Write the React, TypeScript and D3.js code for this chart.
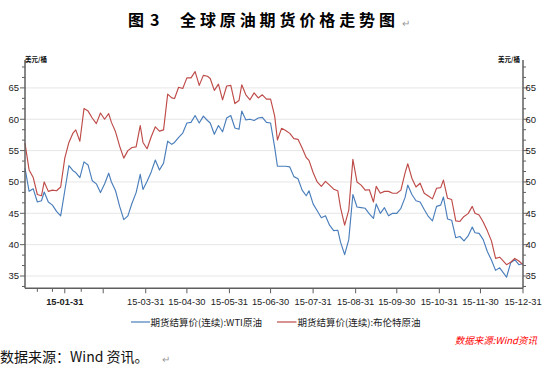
import React from "react";
import * as d3 from "d3";

const dates: string[] = [
  "2015-01-02","2015-01-05","2015-01-08","2015-01-11","2015-01-14","2015-01-16","2015-01-19","2015-01-22","2015-01-25","2015-01-28",
  "2015-01-31","2015-02-03","2015-02-06","2015-02-08","2015-02-11","2015-02-14","2015-02-17","2015-02-20","2015-02-23","2015-02-26",
  "2015-03-01","2015-03-04","2015-03-06","2015-03-09","2015-03-12","2015-03-15","2015-03-18","2015-03-21","2015-03-24","2015-03-27",
  "2015-03-29","2015-04-01","2015-04-04","2015-04-07","2015-04-10","2015-04-13","2015-04-16","2015-04-19","2015-04-21","2015-04-24",
  "2015-04-27","2015-04-30","2015-05-03","2015-05-06","2015-05-09","2015-05-12","2015-05-15","2015-05-17","2015-05-20","2015-05-23",
  "2015-05-26","2015-05-29","2015-06-01","2015-06-04","2015-06-07","2015-06-09","2015-06-12","2015-06-15","2015-06-18","2015-06-21",
  "2015-06-24","2015-06-27","2015-06-30","2015-07-03","2015-07-05","2015-07-08","2015-07-11","2015-07-14","2015-07-17","2015-07-20",
  "2015-07-23","2015-07-26","2015-07-28","2015-07-31","2015-08-03","2015-08-06","2015-08-09","2015-08-12","2015-08-15","2015-08-18",
  "2015-08-20","2015-08-23","2015-08-26","2015-08-29","2015-09-01","2015-09-04","2015-09-07","2015-09-10","2015-09-13","2015-09-15",
  "2015-09-18","2015-09-21","2015-09-24","2015-09-27","2015-09-30","2015-10-03","2015-10-06","2015-10-08","2015-10-11","2015-10-14",
  "2015-10-17","2015-10-20","2015-10-23","2015-10-26","2015-10-29","2015-11-01","2015-11-03","2015-11-06","2015-11-09","2015-11-12",
  "2015-11-15","2015-11-18","2015-11-21","2015-11-24","2015-11-26","2015-11-29","2015-12-02","2015-12-05","2015-12-08","2015-12-11",
  "2015-12-14","2015-12-17","2015-12-19","2015-12-22","2015-12-25","2015-12-28","2015-12-31",
];

const wtiPrices: number[] = [
  52.2, 48.5, 48.9, 46.8, 47.0, 48.4, 46.8, 46.3, 45.3, 44.6,
  48.6, 52.6, 51.8, 51.5, 50.7, 53.2, 52.7, 50.2, 49.7, 48.3,
  49.67, 51.4, 50.0, 48.6, 46.1, 44.0, 44.6, 46.6, 48.3, 51.2,
  48.8, 50.1, 51.6, 53.5, 51.9, 53.0, 56.5, 56.0, 56.3, 57.1,
  57.8, 59.4, 59.5, 60.6, 59.4, 60.5, 59.8, 59.4, 57.6, 59.0,
  58.0, 60.2, 60.6, 58.6, 58.4, 61.3, 59.9, 60.0, 59.8, 60.2,
  60.3, 59.5, 59.4, 55.5, 52.5, 52.5, 52.5, 52.4, 50.85, 50.5,
  48.7, 47.8, 48.6, 46.5, 45.4, 44.3, 44.6, 43.1, 42.24, 42.3,
  40.4, 38.4, 40.8, 48.0, 46.0, 45.9, 45.8, 44.9, 44.2, 46.5,
  45.0, 45.9, 44.6, 45.0, 45.0, 45.8, 47.5, 49.5, 48.0, 47.0,
  46.8, 45.6, 44.5, 43.8, 46.1, 46.3, 47.6, 44.1, 43.9, 41.1,
  41.3, 40.6, 41.4, 42.8, 41.9, 41.8, 40.8, 38.9, 37.55, 35.9,
  36.3, 35.43, 34.8, 37.1, 37.6, 36.8, 37.0,
];

const brentPrices: number[] = [
  56.2, 51.9, 50.7, 48.0, 47.8, 50.0, 48.5, 48.7, 48.6, 49.2,
  53.8, 56.3, 57.8, 58.3, 56.5, 61.7, 61.3, 60.2, 59.3, 61.0,
  60.0, 60.9, 59.5, 58.0, 55.7, 53.8, 55.0, 55.5, 55.6, 59.0,
  56.3, 55.3, 57.2, 58.8, 58.1, 58.3, 64.0, 63.4, 63.3, 65.1,
  64.9, 66.6, 66.6, 67.6, 65.4, 67.0, 66.85, 66.5, 64.6, 65.6,
  63.1, 65.3, 65.4, 62.5, 63.0, 65.5, 63.9, 63.1, 64.2, 63.4,
  63.9, 63.2, 63.2, 60.5, 56.7, 58.55, 58.2, 57.75, 56.9, 56.8,
  55.4, 53.9, 53.45, 51.5, 50.0, 49.3, 50.1, 49.5, 48.85, 48.6,
  45.9, 43.1, 45.5, 53.6, 50.0, 49.5, 48.7, 48.75, 46.8, 49.3,
  48.2, 48.5, 48.5, 48.2, 48.2, 48.7, 51.4, 52.9, 50.6, 49.2,
  49.8, 48.2, 47.76, 47.3, 49.0, 49.1, 50.3, 47.4, 47.2, 43.8,
  43.7, 44.5, 44.95, 46.1, 45.0, 44.73, 43.6, 42.2, 40.6, 37.82,
  38.0, 37.3, 36.8, 37.2, 37.8, 37.4, 36.8,
];

const seriesNames: string[] = ["期货结算价(连续):WTI原油", "期货结算价(连续):布伦特原油"];
const seriesColors: string[] = ["#4a7ebb", "#be4b48"];
const yTickValues: number[] = [35, 40, 45, 50, 55, 60, 65];
const xMajorTicks: string[] = [
  "2015-01-31","2015-02-28","2015-03-31","2015-04-30","2015-05-31","2015-06-30",
  "2015-07-31","2015-08-31","2015-09-30","2015-10-31","2015-11-30","2015-12-31",
];
const xMinorTicks: string[] = ["2015-01-11", "2015-01-22", "2015-02-12"];
const xLabelTicks: string[] = [
  "2015-01-31","2015-03-31","2015-04-30","2015-05-31","2015-06-30",
  "2015-07-31","2015-08-31","2015-09-30","2015-10-31","2015-11-30","2015-12-31",
];
const boldLabel = "2015-01-31";
const titleNum: string[] = ["图", "3"];
const titleText = "全球原油期货价格走势图";
const unitLabel = "美元/桶";
const sourceNote = "数据来源:Wind资讯";
const caption = "数据来源：Wind 资讯。";

const parse = d3.timeParse("%Y-%m-%d");
const fmt = d3.timeFormat("%y-%m-%d");

export default function App() {
  const W = 545, H = 377;
  const left = 25, right = 523, top = 60, bottom = 288.3;
  const x = d3.scaleTime()
    .domain([parse("2015-01-02") as Date, parse("2015-12-31") as Date])
    .range([left, right]);
  const y = d3.scaleLinear().domain([33.04, 69.45]).range([bottom, top]);
  const minorY = d3.range(33.3333, 69.4, 5 / 3).filter(v => Math.abs(Math.round(v / 5) * 5 - v) > 0.1);

  const series = [wtiPrices, brentPrices];
  const line = d3.line<number>()
    .x((_, i) => x(parse(dates[i]) as Date))
    .y(v => y(v));

  const axisColor = "#5f5f5f";
  const labelFont = "'Liberation Sans', Arial, sans-serif";
  const cjk = "'Noto Sans CJK SC', sans-serif";

  return (
    <svg width={W} height={H} style={{ position: "absolute", left: 0, top: 0, background: "#fff" }}>
      <rect x={0} y={0} width={W} height={H} fill="#fff" />
      {/* Title */}
      <text x={128} y={26} fontFamily={cjk} fontWeight={700} fontSize={16} fill="#000">{titleNum[0]}</text>
      <text x={150} y={26} fontFamily={cjk} fontWeight={700} fontSize={16} fill="#000">{titleNum[1]}</text>
      <text x={180} y={26} fontFamily={cjk} fontWeight={700} fontSize={16} letterSpacing={3.9} fill="#000">
        {titleText}
      </text>
      <text x={402} y={27} fontFamily={cjk} fontSize={10} fill="#999">↵</text>

      {/* gridlines */}
      {yTickValues.map(v => (
        <line key={"g" + v} x1={left} x2={right} y1={y(v)} y2={y(v)} stroke="#e6e6e6" strokeWidth={1} />
      ))}

      {/* series */}
      {series.map((s, k) => (
        <path key={k} d={line(s) || ""} fill="none" stroke={seriesColors[k]} strokeWidth={1.15} strokeLinejoin="round" />
      ))}

      {/* axes */}
      <line x1={left} x2={left} y1={top} y2={bottom} stroke={axisColor} strokeWidth={1.5} />
      <line x1={right} x2={right} y1={top} y2={bottom} stroke={axisColor} strokeWidth={1.5} />
      <line x1={left} x2={right} y1={bottom} y2={bottom} stroke={axisColor} strokeWidth={1.5} />

      {yTickValues.map(v => (
        <g key={"yt" + v}>
          <line x1={left - 5} x2={left} y1={y(v)} y2={y(v)} stroke={axisColor} strokeWidth={1} />
          <line x1={right} x2={right + 5} y1={y(v)} y2={y(v)} stroke={axisColor} strokeWidth={1} />
          <text x={19} y={y(v) + 3.3} textAnchor="end" fontFamily={labelFont} fontSize={9.5} fill="#222">{v}</text>
          <text x={525.5} y={y(v) + 3.3} textAnchor="start" fontFamily={labelFont} fontSize={9.5} fill="#222">{v}</text>
        </g>
      ))}
      {minorY.map((v, i) => (
        <g key={"ym" + i}>
          <line x1={left - 3} x2={left} y1={y(v)} y2={y(v)} stroke={axisColor} strokeWidth={1} />
          <line x1={right} x2={right + 3} y1={y(v)} y2={y(v)} stroke={axisColor} strokeWidth={1} />
        </g>
      ))}

      {xMajorTicks.map(d => {
        const px = x(parse(d) as Date);
        return <line key={"xt" + d} x1={px} x2={px} y1={bottom} y2={bottom + 5} stroke={axisColor} strokeWidth={1} />;
      })}
      {xMinorTicks.map(d => {
        const px = x(parse(d) as Date);
        return <line key={"xm" + d} x1={px} x2={px} y1={bottom} y2={bottom + 3.5} stroke={axisColor} strokeWidth={1} />;
      })}
      {xLabelTicks.map(d => {
        const px = x(parse(d) as Date);
        return (
          <text key={"xl" + d} x={px} y={304.5} textAnchor="middle" fontFamily={labelFont} fontSize={9.3}
            fontWeight={d === boldLabel ? 700 : 400} fill="#222">
            {fmt(parse(d) as Date)}
          </text>
        );
      })}

      {/* unit labels */}
      <text x={25} y={61.5} fontFamily={cjk} fontSize={6.5} fontWeight={700} fill="#111">{unitLabel}</text>
      <text x={520} y={61.5} textAnchor="end" fontFamily={cjk} fontSize={6.5} fontWeight={700} fill="#111">{unitLabel}</text>

      {/* legend */}
      <line x1={131} x2={150} y1={322} y2={322} stroke={seriesColors[0]} strokeWidth={1.2} />
      <text x={150.5} y={325.5} fontFamily={cjk} fontSize={9.5} fill="#222">{seriesNames[0]}</text>
      <line x1={277} x2={296.5} y1={322} y2={322} stroke={seriesColors[1]} strokeWidth={1.2} />
      <text x={297.5} y={325.5} fontFamily={cjk} fontSize={9.5} fill="#222">{seriesNames[1]}</text>

      {/* source note */}
      <text x={537} y={344} textAnchor="end" fontFamily={cjk} fontSize={9.5} fontStyle="italic" fill="#ff0000">{sourceNote}</text>

      {/* caption */}
      <text x={0} y={362} fontFamily={cjk} fontSize={14} fill="#111">{caption}</text>
      <text x={162} y={363} fontFamily={cjk} fontSize={10} fill="#999">↵</text>
    </svg>
  );
}
